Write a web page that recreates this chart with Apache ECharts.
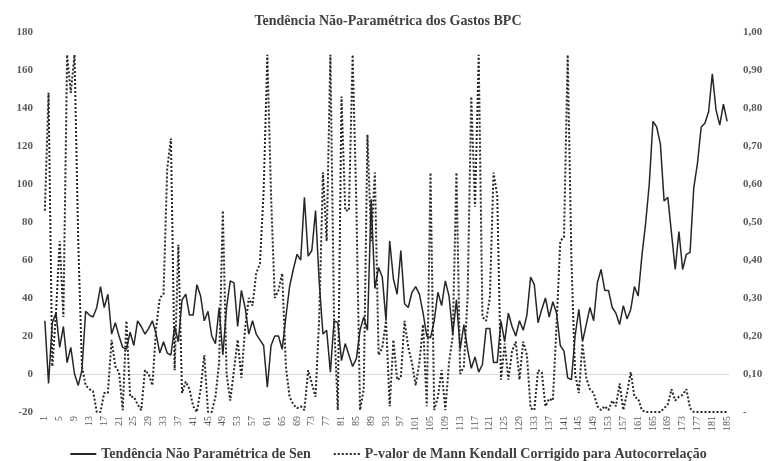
<!DOCTYPE html>
<html>
<head>
<meta charset="utf-8">
<script src="https://cdn.jsdelivr.net/npm/echarts@6/dist/echarts.min.js"></script>
<style>
  html, body { margin: 0; padding: 0; background: #fff; }
  #main { width: 776px; height: 461px; }
</style>
</head>
<body>
<div id="main"></div>
<script>
// dados
const titulo = "Tendência Não-Paramétrica dos Gastos BPC";
const nomeSen = "Tendência Não Paramétrica de Sen";
const nomePvalor = "P-valor de Mann Kendall Corrigido para Autocorrelação";

const meses = Array.from({ length: 185 }, (_, i) => String(i + 1));

const tendenciaSen = [
  28, -5, 27, 32, 14, 25, 6, 14, 0, -6,
  2, 33, 31, 30, 35, 46, 35, 42, 21, 27,
  20, 14, 13, 22, 15, 28, 25, 21, 24, 28,
  21, 11, 17, 11, 10, 25, 17, 39, 42, 31,
  31, 47, 41, 28, 33, 20, 16, 35, 10, 35,
  49, 48, 25, 44, 35, 21, 28, 21, 18, 15,
  -7, 15, 20, 20, 13, 30, 46, 55, 63, 60,
  93, 62, 65, 86, 48, 21, 23, 1, 28, 27,
  7, 16, 10, 4, 8, 23, 30, 23, 92, 45,
  56, 51, 28, 70, 50, 42, 65, 37, 35, 43,
  46, 42, 32, 20, 19, 28, 43, 36, 49, 41,
  21, 39, 13, 26, 13, 3, 9, 1, 5, 24,
  24, 6, 6, 28, 17, 32, 25, 20, 28, 23,
  31, 51, 47, 27, 34, 40, 30, 38, 32, 15,
  12, -2, -3, 20, 34, 17, 26, 35, 28, 48,
  55, 44, 44, 35, 32, 26, 36, 29, 34, 46,
  41, 62, 79, 100, 133, 130, 121, 91, 93, 74,
  55, 75, 55, 63, 64, 98, 111, 130, 132, 138,
  158, 139, 131, 142, 133
];

const pValor = [
  0.53, 0.84, 0.12, 0.26, 0.45, 0.25, 0.94, 0.84, 0.94, 0.45,
  0.12, 0.07, 0.06, 0.055, 0, 0, 0.05, 0.05, 0.19, 0.12,
  0.105, 0.005, 0.24, 0.04, 0.04, 0.02, 0.005, 0.11, 0.10, 0.07,
  0.22, 0.30, 0.31, 0.64, 0.72, 0.11, 0.44, 0.05, 0.08, 0.06,
  0.015, 0, 0.06, 0.15, 0, 0, 0.04, 0.13, 0.53, 0.10,
  0.03, 0.11, 0.19, 0.09, 0.22, 0.30, 0.28, 0.365, 0.39, 0.58,
  0.94, 0.57, 0.30, 0.32, 0.365, 0.12, 0.04, 0.02, 0.01, 0.015,
  0.005, 0.11, 0.075, 0.04, 0.25, 0.63, 0.45, 0.94, 0.24, 0.005,
  0.83, 0.53, 0.53, 0.94, 0.55, 0.005, 0.06, 0.73, 0.45, 0.63,
  0.15, 0.17, 0.24, 0.015, 0.19, 0.085, 0.09, 0.24, 0.17, 0.13,
  0.07, 0.13, 0.23, 0.015, 0.63, 0.005, 0.04, 0.11, 0.005, 0.13,
  0.2, 0.63, 0.1, 0.12, 0.30, 0.83, 0.54, 0.94, 0.25, 0.24,
  0.3, 0.63, 0.57, 0.085, 0.18, 0.085, 0.16, 0.185, 0.085, 0.185,
  0.15, 0.01, 0.005, 0.11, 0.105, 0.015, 0.035, 0.03, 0.23, 0.45,
  0.46, 0.94, 0.4, 0.1, 0.05, 0.18, 0.09, 0.06, 0.05, 0.015,
  0.005, 0.015, 0.005, 0.03, 0.015, 0.075, 0.005, 0.05, 0.105, 0.04,
  0.035, 0.005, 0, 0, 0, 0, 0, 0.01, 0.02, 0.06,
  0.03, 0.04, 0.045, 0.06, 0.01, 0, 0, 0, 0, 0,
  0, 0, 0, 0, 0
];

const fonte = "Liberation Serif";
const corTexto = "#595959";

let myChart = echarts.init(document.getElementById("main"), null, { renderer: "canvas" });

let option = {
  animation: false,
  backgroundColor: "#fff",
  title: {
    text: titulo,
    left: "center",
    top: 9,
    textStyle: { fontFamily: fonte, fontSize: 14, fontWeight: "bold", color: "#404040" },
  },
  legend: {
    top: 442,
    left: "center",
    itemWidth: 26,
    itemHeight: 10,
    itemGap: 22,
    // sem marcador no ícone da legenda, só a linha
    itemStyle: { opacity: 0 },
    textStyle: { fontFamily: fonte, fontSize: 14, fontWeight: "bold", color: "#404040" },
    data: [nomeSen, nomePvalor],
  },
  grid: { left: 43, right: 47, top: 32, bottom: 49 },
  xAxis: {
    type: "category",
    data: meses,
    boundaryGap: true,
    axisLine: { show: false },
    axisTick: { show: false },
    axisLabel: {
      interval: 3,
      rotate: 90,
      margin: 4,
      fontFamily: fonte,
      fontSize: 10,
      color: corTexto,
    },
  },
  yAxis: [
    {
      type: "value",
      min: -20,
      max: 180,
      interval: 20,
      splitLine: { show: false },
      axisLine: { show: false },
      axisTick: { show: false },
      axisLabel: { margin: 10, fontFamily: fonte, fontSize: 11, fontWeight: "bold", color: corTexto },
    },
    {
      type: "value",
      min: 0,
      max: 1,
      interval: 0.1,
      position: "right",
      splitLine: { show: false },
      axisLine: { show: false },
      axisTick: { show: false },
      axisLabel: {
        margin: 14,
        align: "left",
        fontFamily: fonte,
        fontSize: 11,
        fontWeight: "bold",
        color: corTexto,
        formatter: function (v) {
          if (Math.abs(v) < 1e-9) return "-";
          return v.toFixed(2).replace(".", ",");
        },
      },
    },
  ],
  series: [
    {
      name: nomeSen,
      type: "line",
      yAxisIndex: 0,
      data: tendenciaSen,
      symbol: "none",
      lineStyle: { color: "#262626", width: 1.5 },
      itemStyle: { color: "#262626" },
      z: 3,
      markLine: {
        silent: true,
        symbol: "none",
        label: { show: false },
        lineStyle: { color: "#d9d9d9", width: 1, type: "solid" },
        data: [{ yAxis: 0 }],
        z: 1,
      },
    },
    {
      name: nomePvalor,
      type: "line",
      yAxisIndex: 1,
      data: pValor,
      symbol: "none",
      lineStyle: { color: "#262626", width: 2, type: [2, 2] },
      itemStyle: { color: "#262626" },
      z: 2,
    },
  ],
};

myChart.setOption(option);
</script>
</body>
</html>
